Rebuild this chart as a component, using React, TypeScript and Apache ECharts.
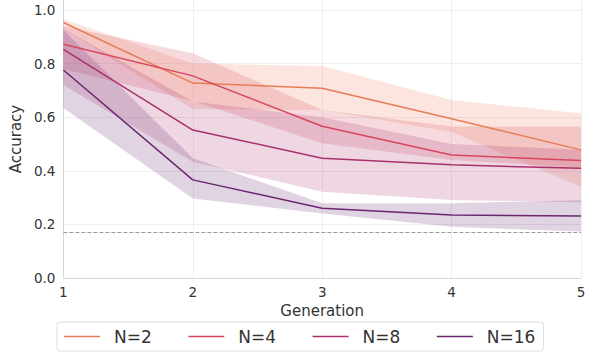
import React, { useEffect, useRef } from "react";
import * as echarts from "echarts";

const GENERATIONS = ["1", "2", "3", "4", "5"];
const SERIES_NAMES = ["N=2", "N=4", "N=8", "N=16"];
const COLORS = ["#E97C58", "#D9455C", "#A8306D", "#6A266F"];

const N2_MEAN = [0.953, 0.727, 0.708, 0.594, 0.478];
const N2_LOWER = [0.93, 0.63, 0.627, 0.545, 0.34];
const N2_UPPER = [0.966, 0.8, 0.791, 0.664, 0.614];

const N4_MEAN = [0.872, 0.754, 0.566, 0.459, 0.438];
const N4_LOWER = [0.78, 0.66, 0.503, 0.44, 0.412];
const N4_UPPER = [0.94, 0.838, 0.627, 0.565, 0.565];

const N8_MEAN = [0.853, 0.552, 0.447, 0.422, 0.409];
const N8_LOWER = [0.72, 0.434, 0.322, 0.291, 0.283];
const N8_UPPER = [0.93, 0.658, 0.6, 0.5, 0.478];

const N16_MEAN = [0.776, 0.366, 0.26, 0.235, 0.231];
const N16_LOWER = [0.634, 0.297, 0.241, 0.191, 0.173];
const N16_UPPER = [0.925, 0.447, 0.279, 0.279, 0.29];

const Y_TICKS = [0, 0.2, 0.4, 0.6, 0.8, 1.0];
const CHANCE = 1 / 6;

const MEANS = [N2_MEAN, N4_MEAN, N8_MEAN, N16_MEAN];
const LOWERS = [N2_LOWER, N4_LOWER, N8_LOWER, N16_LOWER];
const UPPERS = [N2_UPPER, N4_UPPER, N8_UPPER, N16_UPPER];

const FONT = "DejaVu Sans";

function hexToRgba(hex: string, a: number) {
  const r = parseInt(hex.slice(1, 3), 16);
  const g = parseInt(hex.slice(3, 5), 16);
  const b = parseInt(hex.slice(5, 7), 16);
  return `rgba(${r},${g},${b},${a})`;
}

export default function App() {
  const ref = useRef<HTMLDivElement>(null);
  useEffect(() => {
    if (!ref.current) return;
    const chart = echarts.init(ref.current, null, { renderer: "svg" });
    const series: any[] = [];
    SERIES_NAMES.forEach((name, i) => {
      const stack = "band" + i;
      series.push({
        name: name + " lower",
        type: "line",
        stack,
        data: LOWERS[i],
        symbol: "none",
        lineStyle: { opacity: 0, width: 0 },
        silent: true,
        z: 2,
      });
      series.push({
        name: name + " band",
        type: "line",
        stack,
        data: UPPERS[i].map((u, k) => u - LOWERS[i][k]),
        symbol: "none",
        lineStyle: { opacity: 0, width: 0 },
        areaStyle: { color: hexToRgba(COLORS[i], 0.2), opacity: 1 },
        silent: true,
        z: 2,
      });
      series.push({
        name,
        type: "line",
        data: MEANS[i],
        symbol: "none",
        lineStyle: { color: COLORS[i], width: 1.5 },
        itemStyle: { color: COLORS[i] },
        z: 3,
        ...(i === 0
          ? {
              markLine: {
                silent: true,
                symbol: "none",
                label: { show: false },
                lineStyle: { color: "#9a9a9a", type: [4, 2], width: 1 },
                data: [{ yAxis: CHANCE }],
              },
            }
          : {}),
      });
    });

    chart.setOption({
      animation: false,
      backgroundColor: "#ffffff",
      grid: { left: 61, right: 13, top: 0, bottom: 80 },
      xAxis: {
        type: "category",
        data: GENERATIONS,
        boundaryGap: false,
        name: "Generation",
        nameLocation: "middle",
        nameGap: 22,
        nameTextStyle: { fontFamily: FONT, fontSize: 15, color: "#333333" },
        axisLine: { show: true, lineStyle: { color: "#d6d6d6", width: 1 } },
        axisTick: { show: false },
        axisLabel: { fontFamily: FONT, fontSize: 13.5, color: "#333333", margin: 7 },
        splitLine: { show: true, lineStyle: { color: "#eeeeee", width: 1 } },
      },
      yAxis: {
        type: "value",
        min: 0,
        max: 1.037,
        interval: 0.2,
        name: "Accuracy",
        nameLocation: "middle",
        nameGap: 31,
        nameTextStyle: { fontFamily: FONT, fontSize: 15, color: "#333333" },
        axisLine: { show: true, lineStyle: { color: "#d6d6d6", width: 1 } },
        axisTick: { show: false },
        axisLabel: {
          fontFamily: FONT,
          fontSize: 13.5,
          color: "#333333",
          margin: 8,
          showMaxLabel: false,
          formatter: (v: number) =>
            Y_TICKS.some((t) => Math.abs(t - v) < 1e-6) ? v.toFixed(1) : "",
        },
        splitLine: { show: true, showMaxLine: false, lineStyle: { color: "#eeeeee", width: 1 } },
      },
      legend: {
        data: SERIES_NAMES,
        left: 57,
        top: 322,
        orient: "horizontal",
        icon: "rect",
        itemWidth: 36,
        itemHeight: 1.5,
        itemGap: 36.5,
        padding: [6, 8, 6, 7],
        borderColor: "#dddddd",
        borderWidth: 1,
        borderRadius: 3,
        selectedMode: false,
        textStyle: {
          fontFamily: FONT,
          fontSize: 17,
          color: "#333333",
          padding: [0, 0, 0, 9],
        },
      },
      series,
    });
    return () => chart.dispose();
  }, []);
  return (
    <div
      ref={ref}
      style={{ position: "fixed", left: 0, top: 0, width: 594, height: 358 }}
    />
  );
}
